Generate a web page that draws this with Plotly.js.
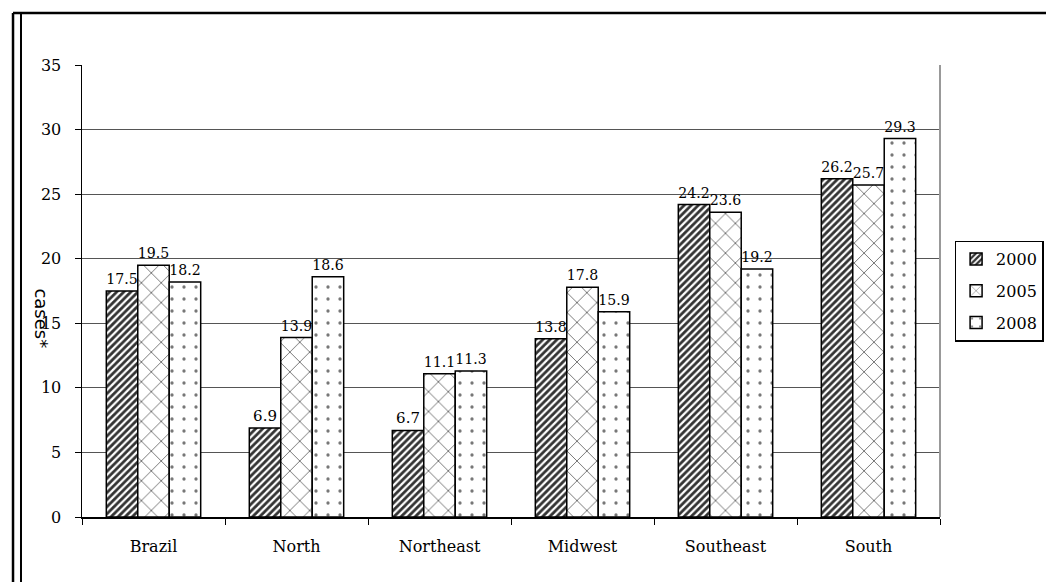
<!DOCTYPE html>
<html>
<head>
<meta charset="utf-8">
<script src="https://cdn.plot.ly/plotly-3.0.1.min.js"></script>
<style>html,body{margin:0;padding:0;background:#fff;}#chart{width:1046px;height:582px;}</style>
</head>
<body>
<div id="chart"></div>
<script>
const categories = ["Brazil", "North", "Northeast", "Midwest", "Southeast", "South"];
const years = ["2000", "2005", "2008"];
const values2000 = [17.5, 6.9, 6.7, 13.8, 24.2, 26.2];
const values2005 = [19.5, 13.9, 11.1, 17.8, 23.6, 25.7];
const values2008 = [18.2, 18.6, 11.3, 15.9, 19.2, 29.3];
const yTicks = [0, 5, 10, 15, 20, 25, 30, 35];

const serif = "DejaVu Serif";
const seriesValues = [values2000, values2005, values2008];
const patterns = [
  {shape: "/", fgcolor: "#333", bgcolor: "#fff", size: 5, solidity: 0.55},
  {shape: "x", fgcolor: "#444", bgcolor: "#fff", size: 14, solidity: 0.1},
  {shape: ".", fgcolor: "#777", bgcolor: "#fff", size: 12, solidity: 0.06}
];

const traces = years.map((yr, i) => ({
  type: "bar",
  name: yr,
  legendgroup: yr,
  x: categories,
  y: seriesValues[i],
  text: seriesValues[i].map(v => v.toFixed(1)),
  textposition: "outside",
  cliponaxis: false,
  textfont: {family: serif, size: 15, color: "#000"},
  marker: {color: "#fff", line: {color: "#000", width: 1.5}, pattern: patterns[i]}
}));

const layout = {
  width: 1046, height: 582,
  margin: {l: 82, r: 106, t: 65, b: 65, autoexpand: false},
  paper_bgcolor: "#fff", plot_bgcolor: "#fff",
  barmode: "group", bargap: 0.34, bargroupgap: 0,
  showlegend: true,
  legend: {x: 1.017, xanchor: "left", y: 0.5, yanchor: "middle",
           bordercolor: "#000", borderwidth: 1.5,
           font: {family: serif, size: 16, color: "#000"},
           itemwidth: 30, tracegroupgap: 8},
  xaxis: {type: "category", tickson: "boundaries", ticks: "outside", ticklen: 6,
          tickcolor: "#000", showline: true, linecolor: "#000", linewidth: 1.5,
          showgrid: false, ticklabelstandoff: 14,
          tickfont: {family: serif, size: 16, color: "#000"}},
  yaxis: {range: [0, 35], tickvals: yTicks, ticks: "outside", ticklen: 6,
          tickcolor: "#000", showline: true, linecolor: "#000", linewidth: 1.5,
          showgrid: true, gridcolor: "#555", gridwidth: 1, zeroline: false,
          ticklabelstandoff: 10,
          tickfont: {family: serif, size: 16, color: "#000"}},
  annotations: [{text: "cases*", xref: "paper", yref: "paper", x: -0.047, y: 0.44,
                 xanchor: "center", yanchor: "middle",
                 textangle: 90, showarrow: false,
                 font: {family: "DejaVu Sans", size: 18, color: "#000"}}],
  shapes: [
    {type: "line", xref: "paper", yref: "paper", x0: 1, x1: 1, y0: 0, y1: 1, line: {color: "#999", width: 2}},
    {type: "line", xref: "paper", yref: "paper", x0: -0.0804, x1: 1.13, y0: 1.115, y1: 1.115, line: {color: "#000", width: 2.5}},
    {type: "line", xref: "paper", yref: "paper", x0: -0.0804, x1: -0.0804, y0: 1.115, y1: -0.15, line: {color: "#000", width: 2.5}},
    {type: "line", xref: "paper", yref: "paper", x0: -0.0711, x1: -0.0711, y0: 1.115, y1: -0.15, line: {color: "#000", width: 2}}
  ]
};

Plotly.newPlot("chart", traces, layout, {displayModeBar: false, staticPlot: true});
</script>
</body>
</html>
